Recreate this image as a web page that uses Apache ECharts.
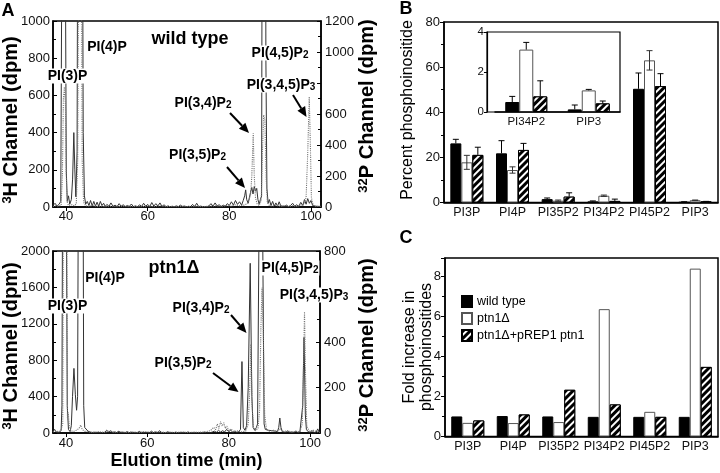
<!DOCTYPE html>
<html><head><meta charset="utf-8">
<script src="https://cdn.jsdelivr.net/npm/echarts@6/dist/echarts.min.js"></script>
<style>html,body{margin:0;padding:0;background:#fff}#c{width:720px;height:473px}</style>
</head><body><div id="c"></div>
<script>
// ---------- Panel A data: elution time (min), counts (dpm) ----------
const wt3H = [[36.8,8],[37.3,20],[37.8,5],[38.3,15],[38.7,30],[39.0,1500],[39.4,4000],[39.8,1500],[40.05,200],[40.3,30],[40.6,60],[40.9,15],[41.3,40],[41.6,150],[41.9,400],[42.15,200],[42.4,55],[42.7,300],[43.0,3000],[43.5,5000],[43.9,2500],[44.2,400],[44.5,60],[44.8,15],[45.2,30],[45.6,8],[46.0,35],[46.4,6],[46.8,30],[47.2,5],[47.6,26],[48.0,4],[48.4,30],[48.8,8],[49.2,20],[49.6,3],[50.0,14],[50.5,4],[51.0,22],[51.5,3],[52.0,10],[52.5,2],[53.0,18],[53.5,4],[54.0,12],[54.5,2],[55.0,8],[55.5,3],[56.0,16],[56.5,2],[57.0,6],[57.5,1],[58.0,12],[58.5,3],[59.0,20],[59.5,4],[60.0,14],[60.5,2],[61.0,24],[61.5,5],[62.0,18],[62.5,6],[63.0,22],[63.5,3],[64.0,12],[64.5,2],[65.0,6],[65.5,1],[66.0,4],[66.5,1],[67.0,6],[67.5,2],[68.0,10],[68.5,3],[69.0,5],[69.5,1],[70.0,4],[70.5,2],[71.0,14],[71.5,3],[72.0,20],[72.5,2],[73.0,5],[73.5,1],[74.0,3],[74.5,1],[75.0,6],[75.5,18],[76.0,4],[76.5,22],[77.0,6],[77.5,12],[78.0,3],[78.5,10],[79.0,4],[79.5,18],[80.0,8],[80.5,28],[81.0,10],[81.5,35],[82.0,14],[82.5,28],[83.0,10],[83.4,35],[83.75,60],[84.0,92],[84.25,40],[84.6,20],[84.9,50],[85.2,80],[85.5,105],[85.8,70],[86.1,110],[86.4,85],[86.7,100],[87.0,40],[87.3,15],[87.6,40],[87.9,60],[88.15,3000],[88.6,5000],[88.95,800],[89.2,100],[89.5,20],[89.8,40],[90.2,8],[90.6,30],[91.0,5],[91.4,22],[91.8,4],[92.2,28],[92.6,6],[93.0,15],[93.5,3],[94.0,10],[94.5,2],[95.0,8],[95.5,20],[96.0,4],[96.5,12],[97.0,3],[97.5,25],[98.0,8],[98.4,40],[98.8,15],[99.2,45],[99.6,20],[100.0,35],[100.4,8],[100.8,18],[101.2,4],[101.6,12],[102.0,3],[102.45,6]];
const wt32P = [[36.8,3],[37.5,8],[38.2,4],[38.8,12],[39.1,200],[39.35,700],[39.6,775],[39.85,650],[40.05,200],[40.3,30],[40.6,10],[41.0,5],[41.5,15],[42.0,8],[42.5,20],[42.85,300],[43.2,2500],[43.6,3000],[43.95,300],[44.3,30],[44.8,8],[45.5,5],[46.5,10],[47.5,3],[48.5,6],[49.5,2],[51,5],[52.5,2],[54,6],[55.5,2],[57,4],[58.5,2],[60,6],[61.5,3],[63,8],[64.5,2],[66,4],[67.5,2],[69,5],[70.5,1],[72,4],[73.5,2],[75,5],[76.5,8],[78,4],[79.5,10],[80.5,6],[81.5,14],[82.5,8],[83.5,12],[84.3,20],[84.8,40],[85.2,80],[85.5,200],[85.85,475],[86.1,200],[86.4,60],[86.8,20],[87.3,10],[87.8,40],[88.1,350],[88.4,594],[88.7,560],[89.0,200],[89.3,30],[89.8,10],[90.5,6],[91.5,12],[92.5,4],[93.5,10],[94.5,3],[95.5,8],[96.5,4],[97.5,12],[98.3,20],[98.8,60],[99.2,350],[99.57,712],[99.85,400],[100.1,60],[100.5,15],[101,5],[102.45,3]];
const ko3H = [[36.8,15],[37.2,40],[37.6,10],[38.0,25],[38.4,8],[38.8,30],[39.0,300],[39.3,5000],[39.7,8000],[40.05,3000],[40.3,300],[40.6,40],[41.0,15],[41.3,80],[41.6,400],[41.95,710],[42.3,420],[42.6,250],[42.85,400],[43.2,5000],[43.7,8000],[44.1,4500],[44.35,300],[44.6,60],[45.0,70],[45.4,20],[45.8,10],[46.3,5],[47,8],[47.5,4],[48,6],[48.5,3],[49,5],[49.5,8],[50,30],[50.5,10],[51,25],[51.5,6],[52,12],[52.5,4],[53,20],[53.5,5],[54,8],[54.5,3],[55,15],[55.5,4],[56,10],[56.5,3],[57,6],[57.5,2],[58,18],[58.5,4],[59,10],[59.5,3],[60,6],[60.5,2],[61,20],[61.5,4],[62,12],[62.5,3],[63,25],[63.5,5],[64,8],[64.5,2],[65,14],[65.5,3],[66,6],[66.5,2],[67,10],[67.5,3],[68,5],[68.5,2],[69,8],[69.5,3],[70,12],[70.5,2],[71,6],[71.5,3],[72,5],[72.5,2],[73,8],[73.5,3],[74,10],[74.5,2],[75,6],[75.5,3],[76,12],[76.5,20],[77,8],[77.5,30],[78,10],[78.5,25],[79,12],[79.5,40],[80,15],[80.5,30],[81,10],[81.5,20],[82,8],[82.5,15],[82.9,40],[83.26,785],[83.6,60],[84.0,30],[84.4,80],[84.8,500],[85.29,1865],[85.7,400],[86.0,60],[86.4,30],[86.8,60],[87.1,100],[87.9,5000],[88.7,100],[89.0,40],[89.4,20],[89.8,30],[90.2,10],[90.6,25],[91,8],[91.5,20],[92.0,15],[92.3,60],[92.57,165],[92.85,60],[93.2,15],[93.6,30],[94,8],[94.5,20],[95,5],[95.5,12],[96,6],[96.5,20],[97,5],[97.5,10],[97.9,30],[98.2,300],[98.52,1050],[98.85,200],[99.1,40],[99.5,15],[100,8],[100.5,25],[101,6],[101.5,10],[101.9,45],[102.2,10],[102.45,5]];
const ko32P = [[36.8,4],[37.5,10],[38.2,5],[38.8,15],[39.2,40],[39.45,1500],[39.8,3000],[40.15,1200],[40.35,60],[40.55,90],[40.8,30],[41.2,10],[41.8,6],[42.5,12],[43.2,20],[43.6,35],[44.0,15],[44.6,8],[45.5,5],[46.5,3],[48,6],[49.5,2],[50.5,8],[52,3],[53.5,6],[55,2],[56.5,5],[58,2],[59.5,6],[61,3],[62.5,5],[64,2],[65.5,4],[67,2],[68.5,5],[70,2],[71.5,4],[73,3],[74.5,6],[75.5,10],[76.3,25],[76.8,15],[77.2,40],[77.6,20],[78.0,50],[78.4,30],[78.8,45],[79.2,20],[79.6,30],[80.0,10],[80.6,18],[81.2,6],[82,10],[83,5],[84.2,8],[84.8,40],[85.15,180],[85.45,390],[85.75,120],[86.1,25],[86.6,10],[87.2,20],[87.6,100],[87.9,450],[88.2,640],[88.5,450],[88.85,80],[89.3,15],[90,8],[91,12],[92,6],[92.6,20],[93.2,6],[94.5,10],[95.5,4],[96.5,8],[97.5,5],[98.1,40],[98.4,300],[98.64,533],[98.9,250],[99.2,30],[99.8,8],[100.8,12],[102,4],[102.45,3]];
const elutionTicks = [40, 60, 80, 100];
const wtRightLabels = [0, 200, 400, 600, 1000, 1200];
const koRightLabels = [0, 200, 400, 800];

// ---------- Panel B data: percent phosphoinositide ----------
const catsB = ['PI3P', 'PI4P', 'PI35P2', 'PI34P2', 'PI45P2', 'PIP3'];
const bAxisMax = 80;
const bWild = [26.2, 21.8, 1.5, 0.4, 50.4, 0.15];
const bWildErr = [1.8, 5.6, 0.5, 0.3, 7.0, 0.2];
const bKo = [17.8, 14.4, 0.8, 3.0, 63.0, 1.0];
const bKoErr = [3.1, 1.4, 0.3, 0.3, 4.3, 0.1];
const bRes = [21.1, 23.3, 2.6, 0.7, 51.6, 0.4];
const bResErr = [3.4, 2.9, 1.7, 0.8, 5.5, 0.1];
// inset
const catsInset = ['PI34P2', 'PIP3'];
const insTickLabels = [0, 2, 4];
const insWild = [0.5, 0.13];
const insWildErr = [0.28, 0.22];
const insKo = [3.12, 1.08];
const insKoErr = [0.36, 0.05];
const insRes = [0.78, 0.43];
const insResErr = [0.78, 0.12];

// ---------- Panel C data: fold increase ----------
const catsC = ['PI3P', 'PI4P', 'PI35P2', 'PI34P2', 'PI45P2', 'PIP3'];
const cWild = [1.0, 1.02, 1.0, 0.98, 0.98, 0.98];
const cKo = [0.68, 0.67, 0.72, 6.35, 1.23, 8.37];
const cRes = [0.8, 1.1, 2.33, 1.6, 0.98, 3.47];
const legendNames = ['wild type', 'ptn1Δ', 'ptn1Δ+pREP1 ptn1'];

// ---------- build ----------
const FF = '"Liberation Sans", Arial, Helvetica, sans-serif';
const chart = echarts.init(document.getElementById('c'), null, {renderer: 'canvas', width: 720, height: 473});

const hatch = {symbol: 'rect', symbolSize: 1, color: '#000', backgroundColor: '#fff',
  dashArrayX: [1, 0], dashArrayY: [2.2, 2], rotation: -Math.PI / 4};
const styBlack = {color: '#000', borderColor: '#000', borderWidth: 1};
const styWhite = {color: '#fff', borderColor: '#555', borderWidth: 1};
const styHatch = {color: '#fff', borderColor: '#000', borderWidth: 1, decal: hatch};
const plain = v => String(v);

function errData(vals, errs) { return vals.map((v, i) => [i, v, errs[i]]); }
function makeErr(offIdx, bw, twoSided, color) {
  return function (params, api) {
    const i = api.value(0), v = api.value(1), e = api.value(2);
    const c = api.coord([i, v]);
    const t = api.coord([i, v + e]);
    const b = twoSided ? api.coord([i, Math.max(0, v - e)]) : c;
    const x = c[0] + offIdx * bw;
    const cap = 3;
    const st = {stroke: color, lineWidth: 1};
    const ch = [
      {type: 'line', shape: {x1: x, y1: t[1], x2: x, y2: b[1]}, style: st},
      {type: 'line', shape: {x1: x - cap, y1: t[1], x2: x + cap, y2: t[1]}, style: st}
    ];
    if (twoSided) ch.push({type: 'line', shape: {x1: x - cap, y1: b[1], x2: x + cap, y2: b[1]}, style: st});
    return {type: 'group', children: ch};
  };
}

const axLine = {lineStyle: {color: '#000', width: 1.5}};
function elutionX(grid, margin, name) {
  const o = {type: 'value', gridIndex: grid, min: 36.8, max: 102.45,
    axisLine: axLine, splitLine: {show: false},
    axisTick: {customValues: elutionTicks, length: 4, lineStyle: {color: '#000'}},
    axisLabel: {customValues: elutionTicks, fontSize: 13, color: '#111', margin: margin, formatter: plain}};
  if (name) Object.assign(o, {name: name, nameLocation: 'middle', nameGap: 19,
    nameTextStyle: {fontSize: 18, fontWeight: 'bold', color: '#000'}});
  return o;
}
function chromY(grid, pos, max, interval, labels) {
  const o = {type: 'value', gridIndex: grid, position: pos, min: 0, max: max, interval: interval,
    axisLine: {show: true, lineStyle: {color: '#000', width: 1.5}}, splitLine: {show: false},
    axisTick: {show: true, inside: true, length: 4, lineStyle: {color: '#000'}},
    minorTick: {show: true, splitNumber: 2, length: 3, lineStyle: {color: '#000'}},
    axisLabel: {margin: pos === 'left' ? 3 : 4, fontSize: 13, color: '#111', formatter: plain, showMaxLabel: true}};
  if (labels) o.axisLabel.customValues = labels;
  return o;
}
function catX(grid, cats, fs) {
  return {type: 'category', gridIndex: grid, data: cats,
    axisLine: {lineStyle: {color: '#000', width: 1.5}}, axisTick: {show: false},
    axisLabel: {fontSize: fs, color: '#111', margin: 4, interval: 0}, splitLine: {show: false}};
}

const lineS = (d, xi, yi, dotted) => ({type: 'line', xAxisIndex: xi, yAxisIndex: yi, data: d,
  symbol: 'none', silent: true, lineStyle: dotted ? {color: '#777', width: 1.1, type: 'dotted'} : {color: '#333', width: 1}});

function barS(name, vals, xi, yi, sty, bw) {
  return {type: 'bar', name: name, xAxisIndex: xi, yAxisIndex: yi, data: vals, barWidth: bw, barGap: '0%', itemStyle: sty, silent: true};
}
function errS(vals, errs, xi, yi, off, bw, two, color) {
  return {type: 'custom', xAxisIndex: xi, yAxisIndex: yi, data: errData(vals, errs),
    renderItem: makeErr(off, bw, two, color), encode: {x: 0, y: 1}, silent: true, z: 5};
}

// text with optional {s|sub} / {u|sup} rich parts
function label(text, x, y, size, bg, rot, weight) {
  const w = weight || 'bold';
  return {type: 'text', z: 100, x: x, y: y, rotation: rot || 0,
    style: {text: text, fontSize: size, fontWeight: w, fontFamily: FF, lineHeight: size + 1,
      fill: '#000', align: 'center', verticalAlign: 'middle',
      backgroundColor: bg ? '#fff' : null, padding: bg ? [0, 1] : 0,
      rich: {
        s: {fontSize: Math.round(size * 0.7), fontWeight: w, fontFamily: FF, verticalAlign: 'bottom', lineHeight: Math.round(size * 0.7)},
        u: {fontSize: Math.round(size * 0.65), fontWeight: w, fontFamily: FF, verticalAlign: 'top', lineHeight: Math.round(size * 0.65)}
      }}};
}
function arrow(x1, y1, x2, y2) {
  const a = Math.atan2(y2 - y1, x2 - x1), L = 10, W = 4.5;
  const bx = x2 - L * Math.cos(a), by = y2 - L * Math.sin(a);
  return [
    {type: 'line', z: 101, shape: {x1: x1, y1: y1, x2: bx, y2: by}, style: {stroke: '#000', lineWidth: 2}},
    {type: 'polygon', z: 101, shape: {points: [[x2, y2], [bx + W * Math.sin(a), by - W * Math.cos(a)], [bx - W * Math.sin(a), by + W * Math.cos(a)]]}, style: {fill: '#000'}}
  ];
}

const R = Math.PI / 2;
const graphics = [
  label('A', 8, 11, 18, false), label('B', 406, 9, 18, false), label('C', 406, 238, 18, false),
  label('{u|3}H Channel (dpm)', 11, 120, 20, false, R),
  label('{u|3}H Channel (dpm)', 11, 346, 20, false, R),
  label('{u|32}P Channel (dpm)', 367, 106, 20, false, R),
  label('{u|32}P Channel (dpm)', 367, 345, 20, false, R),
  label('Percent phosphoinositide', 408, 110, 16, false, R, 'normal'),
  label('Fold increase in\nphosphoinositides', 418, 347, 16, false, R, 'normal'),
  // top tick label of panel B (the axis hides its own end label)
  {type: 'text', z: 100, x: 440, y: 22.5, style: {text: String(bAxisMax), fontSize: 13, fontFamily: FF, fill: '#111', align: 'right', verticalAlign: 'middle'}},
  label('wild type', 190, 39, 18, true),
  label('PI(4)P', 107, 47, 14, true), label('PI(3)P', 67.5, 76, 14, true),
  label('PI(4,5)P{s|2}', 280, 53, 14, true), label('PI(3,4,5)P{s|3}', 281, 85, 14, true),
  label('PI(3,4)P{s|2}', 203, 103, 14, true), label('PI(3,5)P{s|2}', 197.5, 155, 14, true),
  label('ptn1Δ', 174, 268, 18, true),
  label('PI(4)P', 105, 278, 14, true), label('PI(3)P', 67.5, 306, 14, true),
  label('PI(4,5)P{s|2}', 290, 268, 14, true), label('PI(3,4,5)P{s|3}', 314, 295, 14, true),
  label('PI(3,4)P{s|2}', 201, 308, 14, true), label('PI(3,5)P{s|2}', 183, 363, 14, true),
  {type: 'rect', z: 50, shape: {x: 487, y: 32, width: 133, height: 80}, style: {fill: 'none', stroke: '#000', lineWidth: 1.2}}
].concat(arrow(230, 113, 249, 133), arrow(227, 167, 245, 188), arrow(293, 95, 306.5, 117),
         arrow(231, 315, 246.5, 333), arrow(213, 373, 238.5, 392));

const option = {
  animation: false,
  textStyle: {fontFamily: FF},
  grid: [
    {left: 53, top: 21, width: 268, height: 186, show: true, borderColor: '#000', borderWidth: 1.5},
    {left: 53, top: 251, width: 267, height: 182, show: true, borderColor: '#000', borderWidth: 1.5},
    {left: 444, top: 22, width: 274, height: 180.5, show: true, borderColor: '#000', borderWidth: 1.5},
    {left: 495, top: 32, width: 125, height: 80},
    {left: 445, top: 258, width: 273, height: 178.5, show: true, borderColor: '#000', borderWidth: 1.5}
  ],
  xAxis: [
    elutionX(0, 3, null),
    elutionX(1, 4, 'Elution time (min)'),
    catX(2, catsB, 12.5),
    catX(3, catsInset, 11.5),
    catX(4, catsC, 12.5)
  ],
  yAxis: [
    chromY(0, 'left', 1000, 200),
    chromY(0, 'right', 1200, 200, wtRightLabels),
    chromY(1, 'left', 2000, 400),
    chromY(1, 'right', 800, 200, koRightLabels),
    {type: 'value', gridIndex: 2, min: 0, max: bAxisMax, interval: 20,
      axisLine: {show: true, lineStyle: {color: '#000', width: 1.5}}, splitLine: {show: false},
      axisTick: {show: true, length: 4, lineStyle: {color: '#000'}},
      minorTick: {show: true, splitNumber: 2, length: 3, lineStyle: {color: '#000'}},
      axisLabel: {fontSize: 13, color: '#111', margin: 4, showMaxLabel: false, formatter: plain}},
    {type: 'value', gridIndex: 3, min: 0, max: 4, interval: 2, offset: 8,
      axisLine: {show: true, lineStyle: {color: '#000', width: 1.2}}, splitLine: {show: false},
      axisTick: {show: true, length: 3, lineStyle: {color: '#000'}},
      axisLabel: {fontSize: 11.5, color: '#111', margin: 3, customValues: insTickLabels, formatter: plain}},
    {type: 'value', gridIndex: 4, min: 0, max: 8.9, interval: 2,
      axisLine: {show: true, lineStyle: {color: '#000', width: 1.5}}, splitLine: {show: false},
      axisTick: {show: true, length: 4, lineStyle: {color: '#000'}},
      minorTick: {show: true, splitNumber: 2, length: 3, lineStyle: {color: '#000'}},
      axisLabel: {fontSize: 13, color: '#111', margin: 4, showMaxLabel: false}}
  ],
  legend: {data: legendNames, orient: 'vertical', left: 456, top: 290, itemWidth: 10, itemHeight: 11, itemGap: 4,
    icon: 'rect', selectedMode: false, textStyle: {fontSize: 12.5, color: '#000', lineHeight: 11}},
  graphic: graphics,
  series: [
    lineS(wt3H, 0, 0, false), lineS(wt32P, 0, 1, true),
    lineS(ko3H, 1, 2, false), lineS(ko32P, 1, 3, true),
    barS('B wild', bWild, 2, 4, styBlack, 11), barS('B ko', bKo, 2, 4, styWhite, 11), barS('B res', bRes, 2, 4, styHatch, 11),
    errS(bWild, bWildErr, 2, 4, -1, 11, false, '#000'), errS(bKo, bKoErr, 2, 4, 0, 11, true, '#333'), errS(bRes, bResErr, 2, 4, 1, 11, false, '#000'),
    barS('I wild', insWild, 3, 5, styBlack, 14), barS('I ko', insKo, 3, 5, styWhite, 14), barS('I res', insRes, 3, 5, styHatch, 14),
    errS(insWild, insWildErr, 3, 5, -1, 14, false, '#000'), errS(insKo, insKoErr, 3, 5, 0, 14, false, '#000'), errS(insRes, insResErr, 3, 5, 1, 14, false, '#000'),
    barS(legendNames[0], cWild, 4, 6, styBlack, 11), barS(legendNames[1], cKo, 4, 6, styWhite, 11), barS(legendNames[2], cRes, 4, 6, styHatch, 11)
  ]
};
chart.setOption(option);
</script></body></html>
